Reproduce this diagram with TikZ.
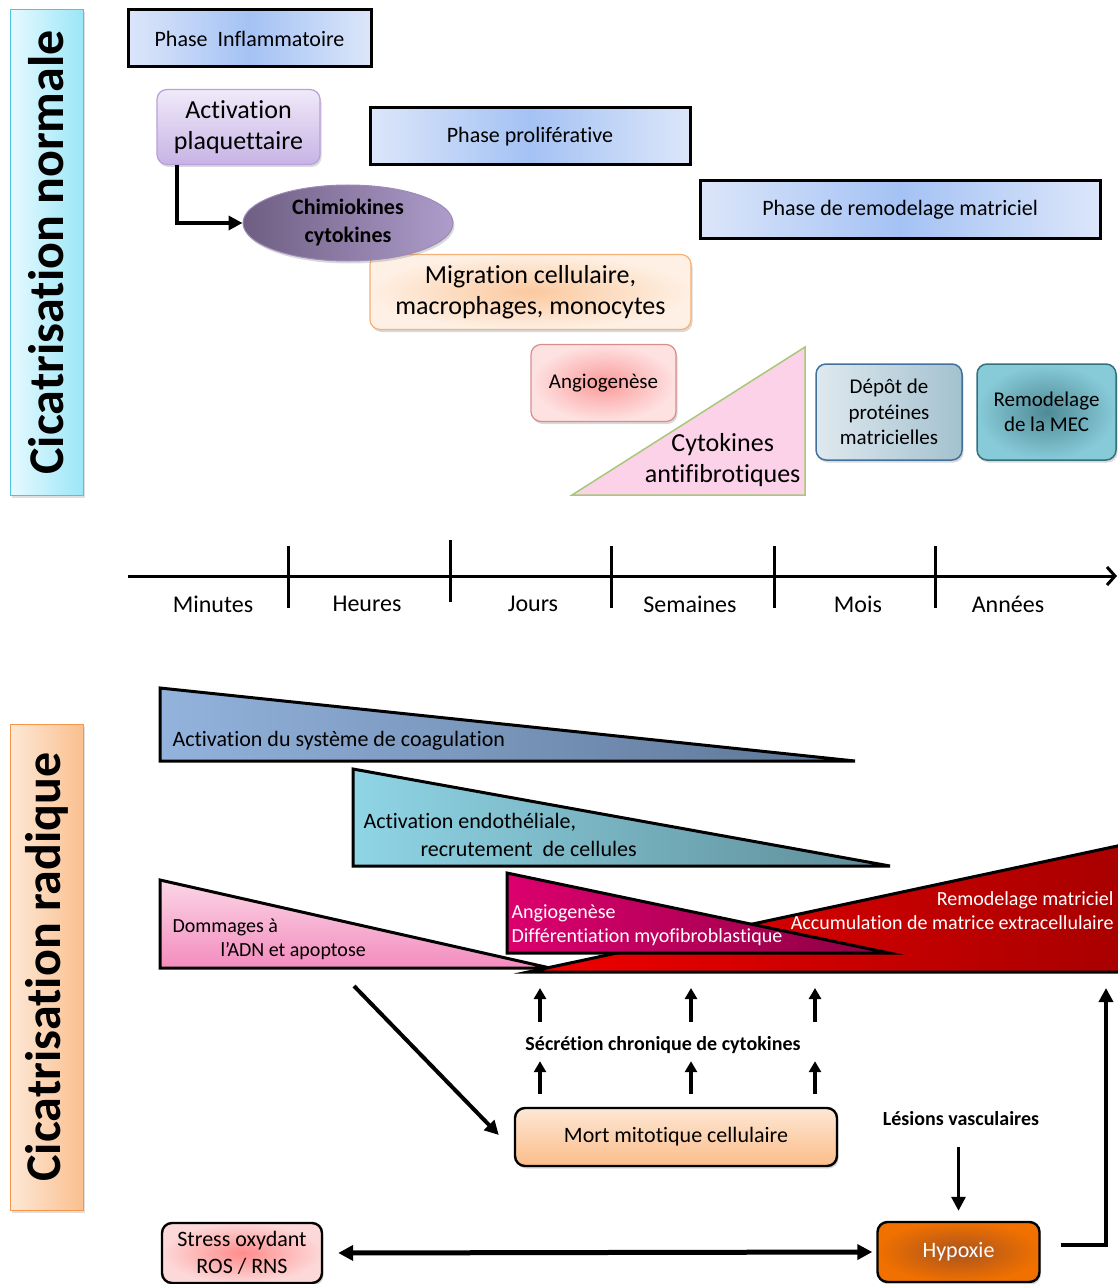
\documentclass[tikz,border=0pt]{standalone}
\usepackage{fontspec}
\setmainfont{Carlito}[Ligatures=CommonOff]
\usetikzlibrary{arrows.meta,shapes.geometric,shadows}

\newcommand{\fsize}[2]{\fontsize{#1}{#2}\selectfont}

\definecolor{phasein}{HTML}{A4C2F4}
\definecolor{phaseout}{HTML}{DCE6FA}
\definecolor{cyanl}{HTML}{E6FAFE}
\definecolor{cyanr}{HTML}{9CE6F8}
\definecolor{cyanline}{HTML}{4BC6E0}
\definecolor{orl}{HTML}{FDE8D6}
\definecolor{orr}{HTML}{FAC090}
\definecolor{orline}{HTML}{F79646}
\definecolor{plaqtop}{HTML}{F0EAF9}
\definecolor{plaqbot}{HTML}{C7B3E5}
\definecolor{plaqline}{HTML}{B7A0DC}
\definecolor{chiml}{HTML}{6F5E82}
\definecolor{chimr}{HTML}{AE9CCB}
\definecolor{chimline}{HTML}{9C8AB8}
\definecolor{migrin}{HTML}{FBC99F}
\definecolor{migrout}{HTML}{FEF0E4}
\definecolor{migrline}{HTML}{F7B176}
\definecolor{angioin}{HTML}{FB9A9A}
\definecolor{angioout}{HTML}{FEE2E2}
\definecolor{angioline}{HTML}{D98C8C}
\definecolor{cytodark}{HTML}{F27FBE}
\definecolor{cytolight}{HTML}{FBD2E8}
\definecolor{cytoline}{HTML}{A8C878}
\definecolor{depotl}{HTML}{DFE9EF}
\definecolor{depotr}{HTML}{A3C1CF}
\definecolor{depotline}{HTML}{41719C}
\definecolor{mecin}{HTML}{4E8A96}
\definecolor{mecout}{HTML}{88CBD8}
\definecolor{mecline}{HTML}{31707C}
\definecolor{coagl}{HTML}{93B3DD}
\definecolor{coagr}{HTML}{5B7494}
\definecolor{endol}{HTML}{8FD5E6}
\definecolor{endor}{HTML}{5D8C96}
\definecolor{dnatop}{HTML}{FBD6E6}
\definecolor{dnabot}{HTML}{F38CBE}
\definecolor{redl}{HTML}{F00000}
\definecolor{redr}{HTML}{A80000}
\definecolor{magl}{HTML}{DC006E}
\definecolor{magr}{HTML}{8C0042}
\definecolor{morttop}{HTML}{FDE7D5}
\definecolor{mortbot}{HTML}{FBBD89}
\definecolor{hypin}{HTML}{A9541E}
\definecolor{hypout}{HTML}{F07000}
\definecolor{strin}{HTML}{FF8C8C}
\definecolor{strout}{HTML}{FDD8D8}

\begin{document}
\begin{tikzpicture}[x=1pt,y=-1pt]
\useasboundingbox (0,0) rectangle (1118,1284);
\clip (0,0) rectangle (1118,1284);

% Define the node styles
\tikzstyle{phase}=[rectangle, draw, line width=3pt, left color=phaseout, right color=phaseout, middle color=phasein, minimum height=57, font=\fsize{22}{26}]
\tikzstyle{bubble}=[rectangle, rounded corners=10pt, draw, line width=1.2pt, align=center, drop shadow={shadow xshift=1.5pt, shadow yshift=-2.5pt, opacity=0.3}]
\tikzstyle{blackbubble}=[bubble, draw=black, line width=2.4pt]
\tikzstyle{sidelabel}=[rectangle, draw, line width=1pt, inner sep=0, minimum width=73, font=\bfseries\fsize{50}{50}, drop shadow={shadow xshift=1.5pt, shadow yshift=-2.5pt, opacity=0.25}]
\tikzstyle{wedge}=[draw, line width=3pt]
\tikzstyle{arr}=[-{Triangle[length=14pt,width=14pt]}, line width=4pt]
\tikzstyle{uparr}=[-{Triangle[length=11pt,width=12pt]}, line width=3.5pt]
\tikzstyle{dblarr}=[{Triangle[length=15pt,width=15pt]}-{Triangle[length=15pt,width=15pt]}, line width=5pt]
\tikzstyle{tag}=[inner sep=0, text height=14, text depth=4, font=\bfseries\fsize{20}{24}]

% Side labels
\node[sidelabel, left color=cyanl, right color=cyanr, draw=cyanline, minimum height=485] (normale) at (46.5,252.5) {\rotatebox{90}{Cicatrisation normale}};
\node[sidelabel, left color=orl, right color=orr, draw=orline, minimum height=486] (radique) at (46.5,967) {\rotatebox{90}{Cicatrisation radique}};

% Define the nodes (normal healing)
\node[phase, minimum width=243] (inflam) at (249.5,38.5) {Phase\ \ Inflammatoire};
\node[phase, minimum width=320] (prolif) at (530,136.5) {Phase proliférative};
\node[phase, minimum width=400] (remod) at (900,209.5) {Phase de remodelage matriciel};

\node[bubble, draw=plaqline, top color=plaqtop, bottom color=plaqbot, minimum width=163, minimum height=75, font=\fsize{26}{31}] (plaq) at (238.5,127) {Activation\\plaquettaire};
\node[bubble, draw=migrline, inner color=migrin, outer color=migrout, minimum width=321, minimum height=75, font=\fsize{26}{31}] (migr) at (530.5,292) {Migration cellulaire,\\macrophages, monocytes};
\node[ellipse, draw=chimline, line width=1pt, left color=chiml, right color=chimr, inner sep=0, minimum width=210, minimum height=76, align=center, font=\bfseries\fsize{22}{28}, drop shadow={shadow xshift=1.5pt, shadow yshift=-2.5pt, opacity=0.3}] (chimio) at (348,223) {Chimiokines\\cytokines};
\node[bubble, draw=angioline, inner color=angioin, outer color=angioout, minimum width=145, minimum height=77, font=\fsize{21}{25}] (angio) at (603.5,383) {Angiogenèse};

\draw[draw=cytoline, line width=1.5pt, left color=cytolight, middle color=cytodark, right color=cytolight] (572,495) -- (805,495) -- (805,347) -- cycle;
\node[anchor=east, align=center, font=\fsize{26}{31}] (cyto) at (804,460) {Cytokines\\antifibrotiques};

\node[bubble, draw=depotline, line width=1.5pt, left color=depotl, right color=depotr, minimum width=146, minimum height=96, font=\fsize{21}{25.5}] (depot) at (889,412) {Dépôt de\\protéines\\matricielles};
\node[bubble, draw=mecline, line width=1.5pt, inner color=mecin, outer color=mecout, minimum width=139, minimum height=96, font=\fsize{21}{25.5}] (mec) at (1046.5,412) {Remodelage\\de la MEC};

% Time axis
\coordinate (t0) at (128,576);
\coordinate (tend) at (1117,576);
\draw[line width=3pt, -{Straight Barb[length=8pt,width=18pt]}] (t0) -- (tend);
\foreach \x/\ya in {288/546, 450/540, 611/546, 774/546, 935/546}
  \draw[line width=3pt] (\x,\ya) -- (\x,\ya+62);
\foreach \lab/\x [count=\i] in {Minutes/213, Heures/367, Jours/533, Semaines/690, Mois/858, Années/1008}
  \node[font=\fsize{24}{28}] (lab\i) at (\x,604) {\lab};

% Define the nodes (radiation healing)
\draw[wedge, left color=coagl, right color=coagr] (160,688) -- (160,761) -- (855,761) -- cycle;
\node[anchor=west, font=\fsize{22}{26}] (coag) at (169,741) {Activation du système de coagulation};

\draw[wedge, left color=endol, right color=endor] (353,769) -- (353,866) -- (890,866) -- cycle;
\node[anchor=west, align=left, font=\fsize{22}{28}] (endo) at (360,835) {Activation endothéliale,\\\hspace*{57pt}recrutement\ \ de cellules};

\draw[wedge, top color=dnatop, bottom color=dnabot] (160,880) -- (160,968) -- (550,968) -- cycle;
\node[anchor=west, align=left, font=\fsize{20}{24}] (dna) at (169,939) {Dommages à\\\hspace*{48pt}l’ADN et apoptose};

\draw[wedge, left color=redl, right color=redr] (528,972) -- (1122,845) -- (1122,972) -- cycle;
\node[anchor=east, align=right, text=white, font=\fsize{20}{24}] (accum) at (1117,911) {Remodelage matriciel\\Accumulation de matrice extracellulaire};

\draw[wedge, left color=magl, right color=magr] (507,873) -- (507,953) -- (889,953) -- cycle;
\node[anchor=west, align=left, text=white, font=\fsize{20}{24}] (myofib) at (508,925) {Angiogenèse\\Différentiation myofibroblastique};

\coordinate (dmg) at (354,986);
\coordinate (redbase) at (528,972);
\coordinate (rtop) at (1106,988);

\node[blackbubble, top color=morttop, bottom color=mortbot, minimum width=322, minimum height=58, font=\fsize{22}{26}] (mort) at (676,1137) {Mort mitotique cellulaire};
\node[tag] (secr) at (663,1045) {Sécrétion chronique de cytokines};
\node[tag] (lesions) at (961,1120) {Lésions vasculaires};
\node[blackbubble, inner color=hypin, outer color=hypout, minimum width=162, minimum height=60, text=white, font=\fsize{22}{26}] (hypo) at (958.5,1252) {Hypoxie};
\node[blackbubble, inner color=strin, outer color=strout, minimum width=160, minimum height=60, font=\fsize{22}{27}] (stress) at (242,1253) {Stress oxydant\\ROS / RNS};

% Add the edges
\draw[arr] ([xshift=21pt]plaq.south west) |- (chimio.west);
\draw[arr] (dmg) -- ([xshift=-15pt,yshift=2pt]mort.west);
\foreach \x in {540,691,815} {
  \draw[uparr, shorten <=13pt, shorten >=7pt] (\x,0 |- mort.north) -- (\x,0 |- secr.south);
  \draw[uparr, shorten <=14pt, shorten >=16pt] (\x,0 |- secr.north) -- (\x,0 |- redbase);
}
\draw[arr, line width=3pt, shorten <=18pt, shorten >=10pt] (hypo.north |- lesions.south) -- (hypo.north);
\draw[dblarr, shorten <=15pt, shorten >=4pt] (stress.east) -- (hypo.west);
\draw[arr, line width=4.5pt] ([xshift=20pt,yshift=7pt]hypo.east) -| (rtop);

\end{tikzpicture}
\end{document}
